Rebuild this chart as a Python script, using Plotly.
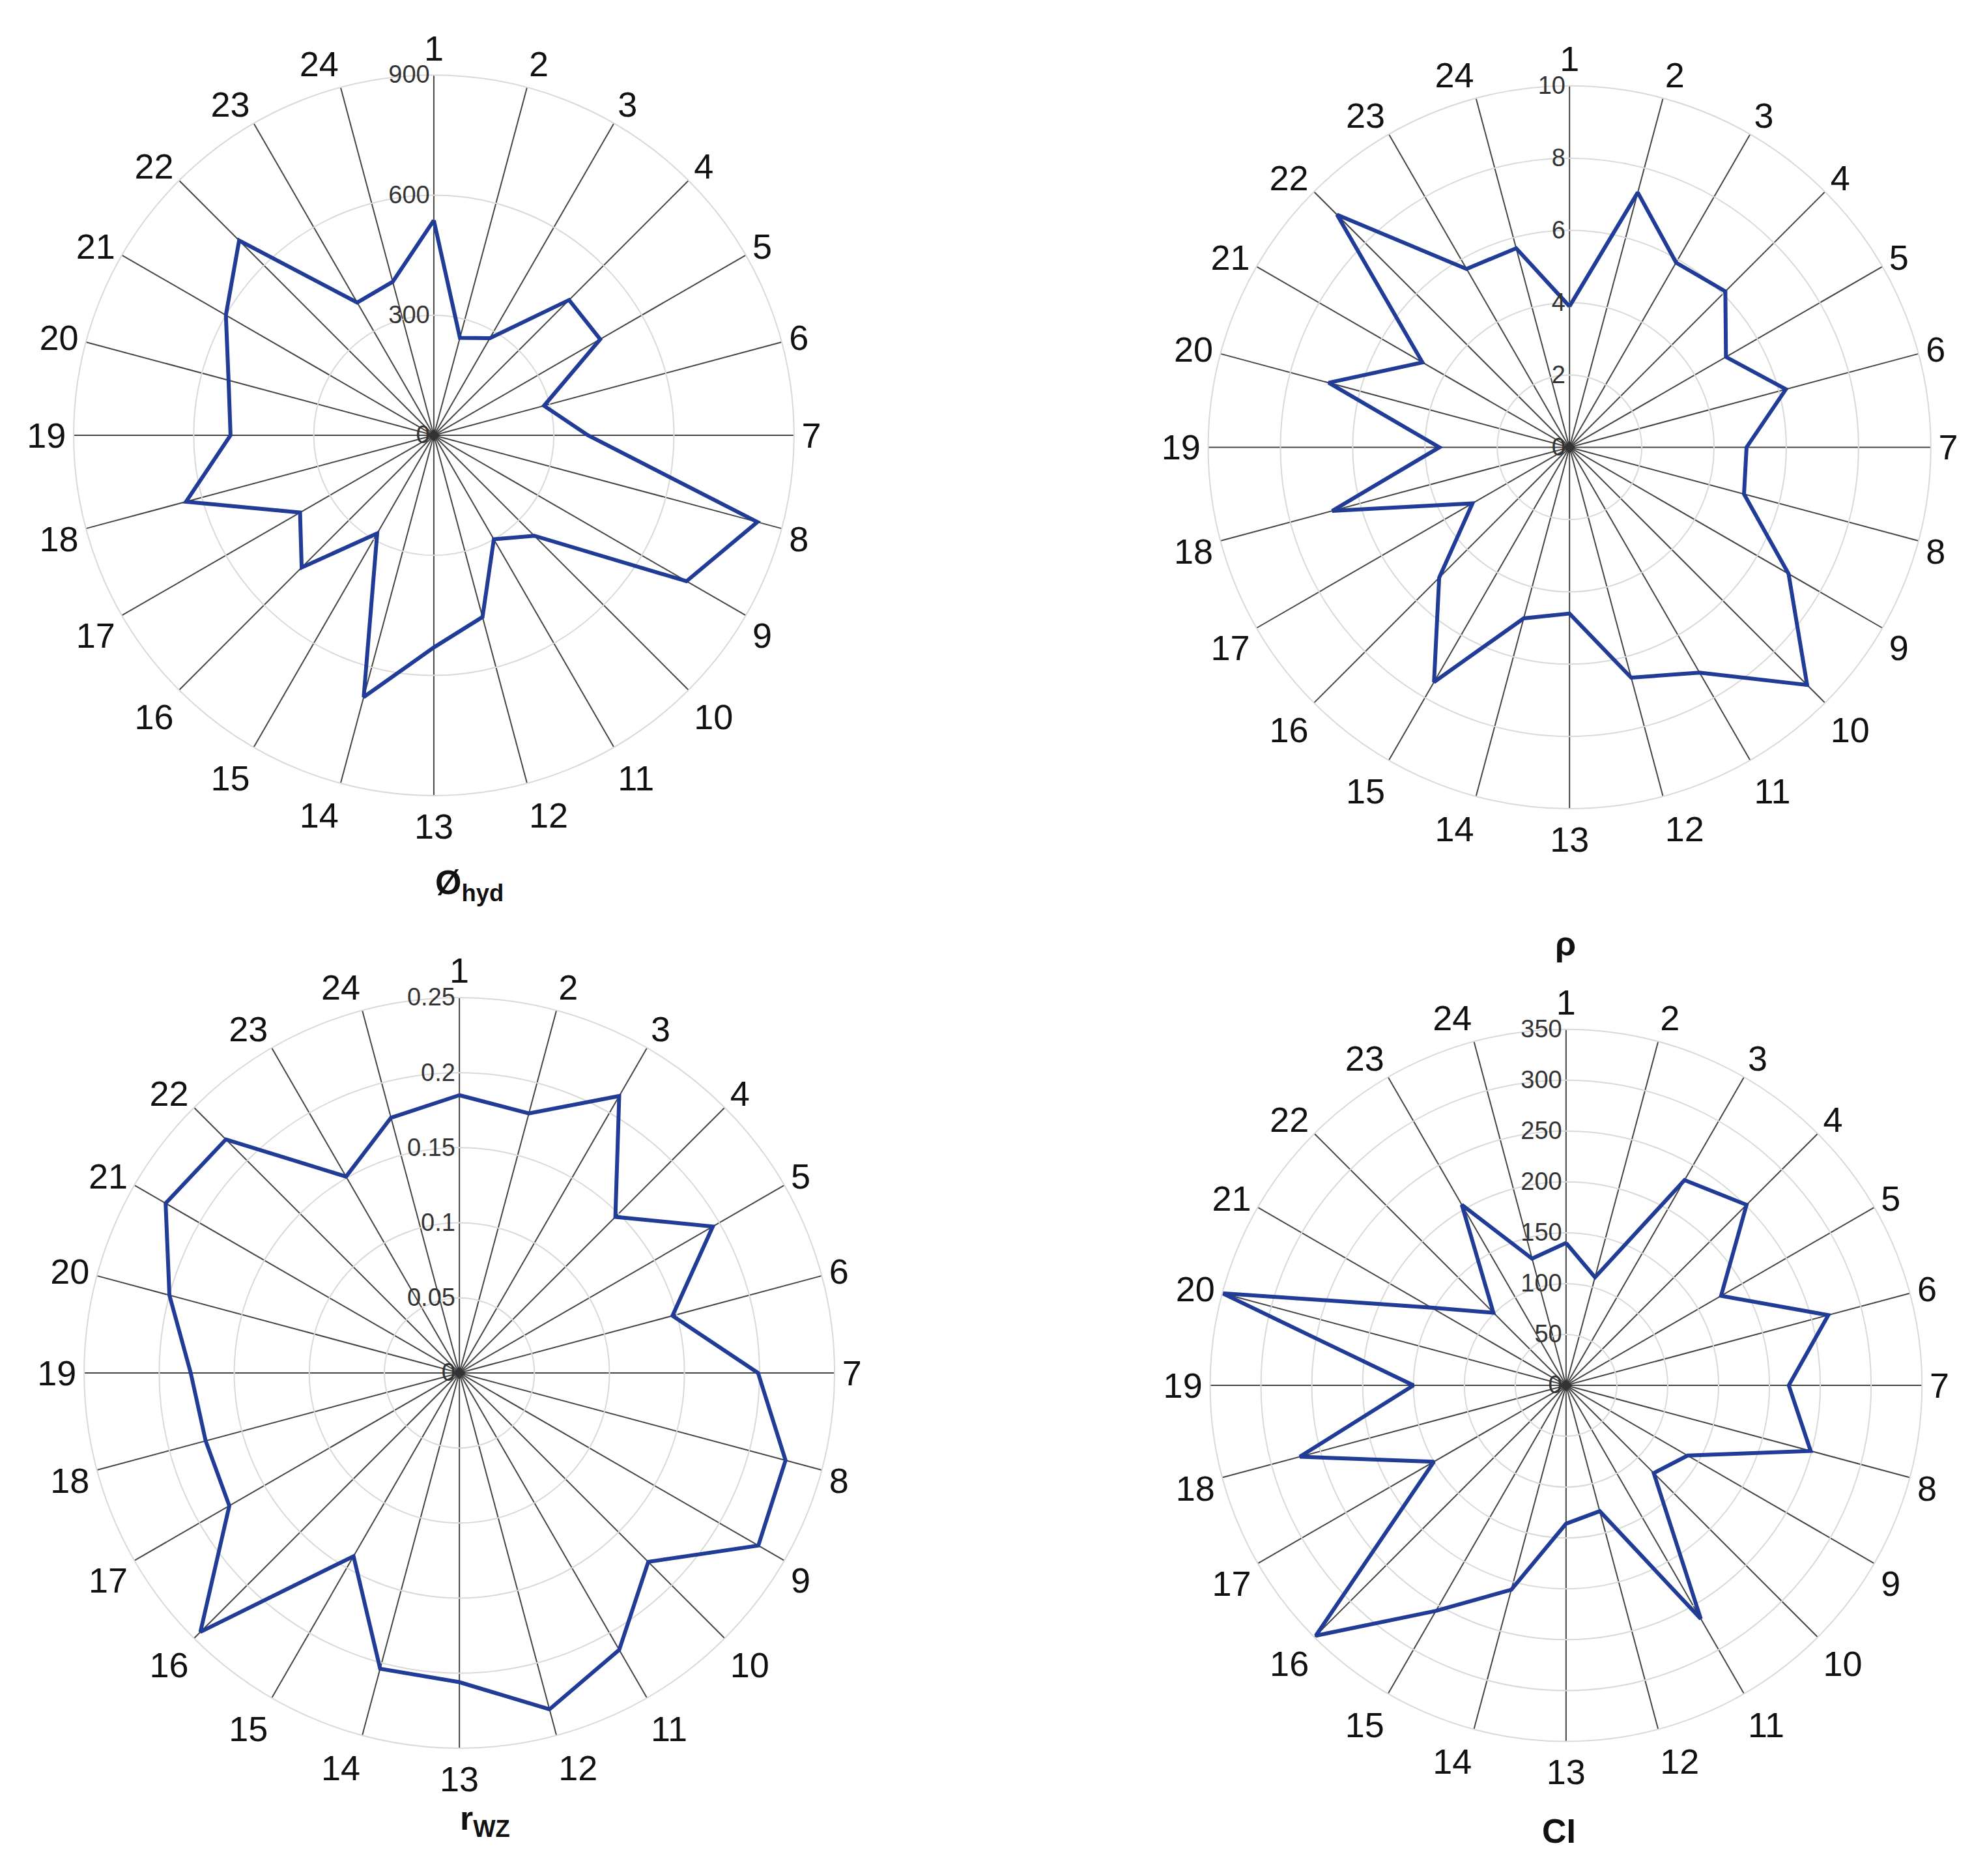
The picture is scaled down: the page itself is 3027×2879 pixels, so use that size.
import plotly.graph_objects as go

cats = [str(i) for i in range(1, 25)]
phi_hyd = [537, 252, 280, 478, 480, 285, 385, 837, 729, 355, 300, 470, 530, 677, 283, 467, 386, 641, 508, 531, 600, 688, 383, 397]
rho = [3.9, 7.3, 5.9, 6.1, 5.0, 6.2, 4.9, 5.0, 7.0, 9.3, 7.2, 6.6, 4.6, 4.9, 7.5, 5.1, 3.1, 6.8, 3.6, 6.9, 4.7, 9.1, 5.7, 5.7]
r_wz = [0.185, 0.179, 0.213, 0.147, 0.195, 0.147, 0.199, 0.225, 0.230, 0.178, 0.213, 0.232, 0.206, 0.204, 0.141, 0.244, 0.177, 0.175, 0.179, 0.200, 0.226, 0.220, 0.151, 0.176]
ci = [140, 110, 233, 251, 176, 267, 219, 249, 138, 122, 265, 128, 136, 208, 256, 348, 150, 271, 150, 350, 153, 101, 205, 129]

panels = [
    (phi_hyd, [0, 900], [0, 300, 600, 900], [0.0347, 0.400], [0.5787, 0.9628]),
    (rho, [0, 10], [0, 2, 4, 6, 8, 10], [0.610, 0.9765], [0.5717, 0.957]),
    (r_wz, [0, 0.25], [0, 0.05, 0.1, 0.15, 0.2, 0.25], [0.040, 0.4206], [0.0709, 0.471]),
    (ci, [0, 350], [0, 50, 100, 150, 200, 250, 300, 350], [0.611, 0.972], [0.0743, 0.4543]),
]
titles = [("Ø<sub>hyd</sub>", 0.2175, 0.531), ("ρ", 0.797, 0.50), ("r<sub>WZ</sub>", 0.230, 0.020), ("CI", 0.797, 0.016)]

fig = go.Figure()
layout = dict(width=3027, height=2879, paper_bgcolor="white", showlegend=False,
              margin=dict(l=0, r=0, t=0, b=0), font=dict(family="Liberation Sans", color="#111"))
for i, (vals, rng, ticks, dx, dy) in enumerate(panels):
    name = "polar" if i == 0 else f"polar{i+1}"
    fig.add_trace(go.Scatterpolar(r=vals + [vals[0]], theta=cats + [cats[0]], mode="lines",
                                  line=dict(color="#203c96", width=6), subplot=name))
    fig.add_trace(go.Scatterpolar(r=[0], theta=[cats[0]], mode="markers",
                                  marker=dict(symbol="diamond", size=14, color="#333"), subplot=name))
    layout[name] = dict(
        domain=dict(x=dx, y=dy), bgcolor="white",
        angularaxis=dict(rotation=90, direction="clockwise", type="category", categoryarray=cats,
                         showgrid=True, gridcolor="#444", gridwidth=2, showline=True,
                         linecolor="#d9d9d9", linewidth=2, ticks="", tickfont=dict(size=54)),
        radialaxis=dict(range=rng, tickvals=ticks, angle=90, tickangle=90, side="counterclockwise",
                        showline=False, gridcolor="#d9d9d9", gridwidth=2, ticks="",
                        tickfont=dict(size=38, color="#333")),
    )
fig.update_layout(**layout)
for t, x, y in titles:
    fig.add_annotation(text=f"<b>{t}</b>", x=x, y=y, xref="paper", yref="paper", showarrow=False,
                       font=dict(size=52, family="Liberation Sans"))
fig.write_html("out.html")
